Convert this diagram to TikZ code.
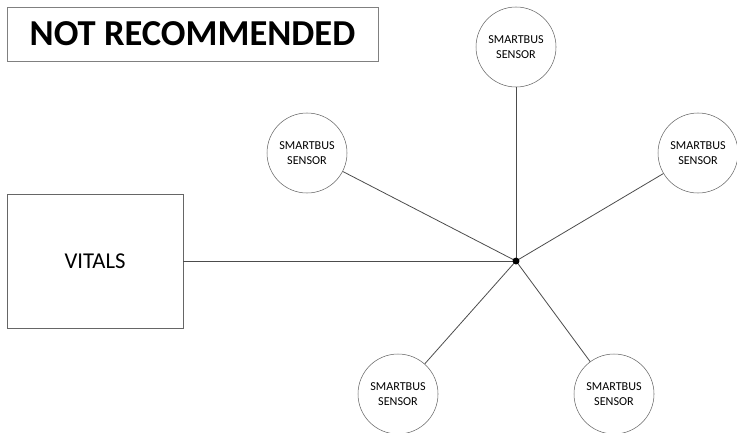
\documentclass[tikz,border=0pt]{standalone}
\usepackage{fontspec}
\setmainfont{Carlito}
\usetikzlibrary{positioning}

\tikzset{
  sensor/.style={draw=gray!80!black, circle, minimum size=60pt, inner sep=0pt,
    align=center, font=\fontsize{9.1}{11.3}\selectfont},
  wire/.style={draw=gray!60!black, line width=0.6pt}
}

\begin{document}
\begin{tikzpicture}[x=0.75pt,y=-0.75pt]
\useasboundingbox (0,0) rectangle (737,432);
\node[draw=gray, minimum width=278pt, minimum height=40.5pt, font=\fontsize{27.4}{30}\selectfont\bfseries] (title) at (192.5,34) {NOT RECOMMENDED};
\node[draw=gray!80!black, minimum width=132pt, minimum height=100.5pt, font=\fontsize{17}{19}\selectfont] (vitals) at (95,261) {VITALS};
\coordinate (hub) at (516,261);
\node[sensor] (sTop) at (516,47) {SMARTBUS\\SENSOR};
\node[sensor] (sLeft) at (307,153) {SMARTBUS\\SENSOR};
\node[sensor] (sRight) at (698,153) {SMARTBUS\\SENSOR};
\node[sensor] (sLowL) at (398,394) {SMARTBUS\\SENSOR};
\node[sensor] (sLowR) at (614,394) {SMARTBUS\\SENSOR};
% wires to the hub
\draw[wire] (vitals) -- (hub);
\foreach \s in {sTop,sLeft,sRight,sLowL,sLowR}
  \draw[wire] (hub) -- (\s);
\fill (hub) circle (2.6pt);
\end{tikzpicture}
\end{document}
